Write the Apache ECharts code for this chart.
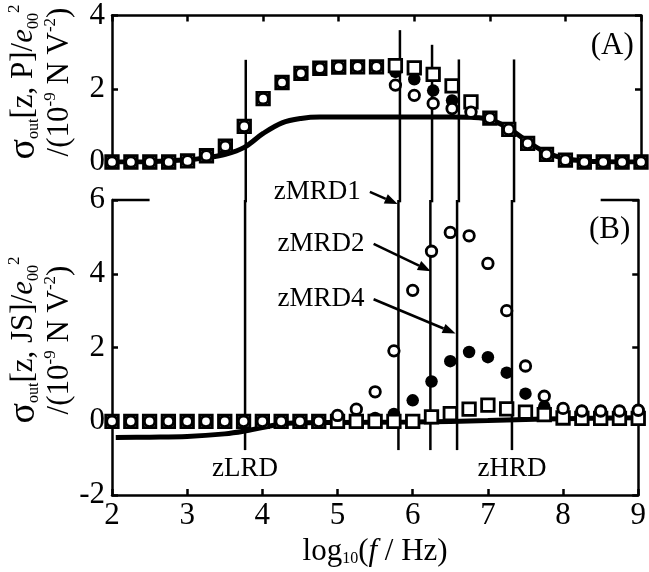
<!DOCTYPE html>
<html>
<head>
<meta charset="utf-8">
<script src="https://cdn.jsdelivr.net/npm/echarts@6/dist/echarts.min.js"></script>
<style>
  html, body { margin: 0; padding: 0; background: #fff; }
  #chart { width: 649px; height: 572px; }
</style>
</head>
<body>
<div id="chart"></div>
<script>
// frequencies, log10(f / Hz)
const xs = [2, 2.25, 2.5, 2.75, 3, 3.25, 3.5, 3.75, 4, 4.25, 4.5, 4.75, 5, 5.25, 5.5,
  5.75, 6, 6.25, 6.5, 6.75, 7, 7.25, 7.5, 7.75, 8, 8.25, 8.5, 8.75, 9];

// panel (A)
const aSquare = [0, 0, 0, 0, 0.03, 0.17, 0.43, 0.97, 1.73, 2.17, 2.42, 2.56, 2.59, 2.6, 2.6,
  2.63, 2.57, 2.39, 2.08, 1.64, 1.2, 0.89, 0.51, 0.21, 0.05, 0, 0, 0, 0];
const aOpen = [0, 0, 0, 0, 0.03, 0.17, 0.43, 0.97, 1.73, 2.17, 2.42, 2.56, 2.59, 2.6, 2.6,
  2.1, 1.82, 1.6, 1.46, 1.36, 1.2, 0.89, 0.51, 0.21, 0.05, 0, 0, 0, 0];
const aFilled = [0, 0, 0, 0, 0.03, 0.17, 0.43, 0.97, 1.73, 2.17, 2.42, 2.56, 2.59, 2.6, 2.6,
  2.46, 2.26, 1.95, 1.68, 1.38, 1.2, 0.89, 0.51, 0.21, 0.05, 0, 0, 0, 0];
const aCurveX = [2, 2.5, 3, 3.25, 3.5, 3.75, 4, 4.25, 4.5, 4.75, 5, 6, 6.5, 6.75, 7, 7.25, 7.5, 7.75, 8, 8.25, 8.5, 9];
const aCurveY = [0, 0.01, 0.06, 0.12, 0.21, 0.4, 0.78, 1.07, 1.19, 1.23, 1.23, 1.23, 1.23, 1.22, 1.16, 0.92, 0.56, 0.25, 0.09, 0.03, 0.01, 0];

// panel (B)
const bSquare = [0, 0, 0, 0, 0, 0, 0, 0, 0, 0, 0, 0, 0, 0, 0,
  0, 0, 0.12, 0.21, 0.33, 0.44, 0.34, 0.25, 0.18, 0.09, 0.08, 0.08, 0.08, 0.08];
const bOpen = [0, 0, 0, 0, 0, 0, 0, 0, 0, 0, 0, 0, 0.16, 0.33, 0.8,
  1.91, 3.55, 4.61, 5.12, 5.03, 4.28, 3.0, 1.5, 0.68, 0.35, 0.28, 0.28, 0.28, 0.3];
const bFilled = [0, 0, 0, 0, 0, 0, 0, 0, 0, 0, 0, 0, 0, 0.06, 0.09,
  0.2, 0.57, 1.08, 1.63, 1.88, 1.74, 1.32, 0.75, 0.4, 0.35, 0.28, 0.28, 0.28, 0.3];
const bCurveX = [2.05, 2.5, 3, 3.5, 3.75, 4, 4.25, 4.5, 5, 6, 7, 7.5, 8, 9];
const bCurveY = [-0.44, -0.43, -0.41, -0.34, -0.27, -0.17, -0.07, -0.04, -0.03, -0.02, 0.02, 0.05, 0.07, 0.1];

// region boundaries
const regionNames = ['zLRD', 'zMRD1', 'zMRD2', 'zMRD4', 'zHRD'];
const regionX = [3.77, 5.81, 6.235, 6.59, 7.32];
const regionTopA = [2.79, 3.6, 3.2, 2.8, 2.8];
const regionBottomB = -0.78;

const FONT = '"Liberation Serif", "Times New Roman", Times, serif';
const chart = echarts.init(document.getElementById('chart'));

function xAxisCfg(grid, pos, labels) {
  return {
    gridIndex: grid, type: 'value', position: pos, min: 2, max: 9, interval: 1,
    axisLine: { onZero: false, lineStyle: { color: '#000', width: 2.5 } },
    axisTick: { inside: true, length: 6, lineStyle: { color: '#000', width: 2.5 } },
    axisLabel: { show: labels, color: '#000', fontFamily: FONT, fontSize: 31, margin: 5 },
    splitLine: { show: false }
  };
}
function yAxisCfg(grid, pos, min, max, labels) {
  return {
    gridIndex: grid, type: 'value', position: pos, min: min, max: max, interval: 2,
    axisLine: { show: true, onZero: false, lineStyle: { color: '#000', width: 2.5 } },
    axisTick: { show: true, inside: true, length: 6, lineStyle: { color: '#000', width: 2.5 } },
    axisLabel: { show: labels, color: '#000', fontFamily: FONT, fontSize: 31, margin: 7 },
    splitLine: { show: false }
  };
}

function scatter(xi, yi, vals, kind, z) {
  const filled = kind === 'filled';
  return {
    type: 'scatter', xAxisIndex: xi, yAxisIndex: yi, z: z, silent: true,
    symbol: kind === 'square' ? 'rect' : 'circle',
    symbolSize: kind === 'square' ? 12.5 : (filled ? 12.5 : 10.5),
    data: xs.map((x, i) => [x, vals[i]]),
    itemStyle: {
      color: filled ? '#000' : '#fff',
      borderColor: '#000', borderWidth: filled ? 0 : 2.8, opacity: 1
    }
  };
}

const series = [];
// region lines: top part in (A) running down through the gap, bottom part in (B)
regionX.forEach((x, i) => {
  series.push({
    type: 'line', xAxisIndex: 0, yAxisIndex: 0, clip: false, symbol: 'none', z: 1, silent: true,
    data: [[x, regionTopA[i]], [x, -1.1]],
    lineStyle: { color: '#000', width: 2.5 }
  });
  series.push({
    type: 'line', xAxisIndex: 1, yAxisIndex: 2, clip: false, symbol: 'none', z: 1, silent: true,
    data: [[x, 6], [x, regionBottomB]],
    lineStyle: { color: '#000', width: 2.5 }
  });
});
// partial top border of (B)
[[2, 2.5], [8.5, 9]].forEach(seg => {
  series.push({
    type: 'line', xAxisIndex: 1, yAxisIndex: 2, clip: false, symbol: 'none', z: 1, silent: true,
    data: [[seg[0], 6], [seg[1], 6]],
    lineStyle: { color: '#000', width: 2.5 }
  });
});
series.push({
  type: 'line', xAxisIndex: 0, yAxisIndex: 0, smooth: 0.35, symbol: 'none', z: 2, silent: true,
  data: aCurveX.map((x, i) => [x, aCurveY[i]]),
  lineStyle: { color: '#000', width: 5 }
});
series.push({
  type: 'line', xAxisIndex: 1, yAxisIndex: 2, smooth: 0.35, symbol: 'none', z: 2, silent: true,
  data: bCurveX.map((x, i) => [x, bCurveY[i]]),
  lineStyle: { color: '#000', width: 5 }
});
series.push(scatter(0, 0, aFilled, 'filled', 3));
series.push(scatter(0, 0, aSquare, 'square', 4));
series.push(scatter(0, 0, aOpen, 'open', 5));
series.push(scatter(1, 2, bFilled, 'filled', 3));
series.push(scatter(1, 2, bSquare, 'square', 4));
series.push(scatter(1, 2, bOpen, 'open', 5));

const xB = xAxisCfg(1, 'bottom', true);
xB.name = 'log{sub|10}({i|f} / Hz)';
xB.nameLocation = 'middle';
xB.nameGap = 40;
xB.nameTextStyle = {
  color: '#000', fontFamily: FONT, fontSize: 31,
  rich: {
    sub: { fontFamily: FONT, fontSize: 16, color: '#000', verticalAlign: 'bottom', lineHeight: 16 },
    i: { fontFamily: FONT, fontSize: 31, fontStyle: 'italic', color: '#000' }
  }
};

chart.setOption({
  animation: false,
  backgroundColor: '#fff',
  grid: [
    { left: 112, right: 8, top: 11, height: 151 },
    { left: 112, right: 8, top: 200, height: 302 }
  ],
  xAxis: [xAxisCfg(0, 'top', false), xB],
  yAxis: [
    yAxisCfg(0, 'left', 0, 4, true),
    yAxisCfg(0, 'right', 0, 4, false),
    yAxisCfg(1, 'left', -2, 6, true),
    yAxisCfg(1, 'right', -2, 6, false)
  ],
  series: series
});

// annotations placed through the axes
const toB = p => chart.convertToPixel({ gridIndex: 1 }, p);
const toA = p => chart.convertToPixel({ gridIndex: 0 }, p);

function arrow(from, to) {
  const p0 = toB(from), p1 = toB(to);
  const dx = p1[0] - p0[0], dy = p1[1] - p0[1];
  const len = Math.hypot(dx, dy), ux = dx / len, uy = dy / len;
  const head = 13, w = 5;
  const bx = p1[0] - ux * head, by = p1[1] - uy * head;
  return [
    { type: 'line', silent: true, z: 10, shape: { x1: p0[0], y1: p0[1], x2: bx, y2: by },
      style: { stroke: '#000', lineWidth: 2.5 } },
    { type: 'polygon', silent: true, z: 10,
      shape: { points: [p1, [bx - uy * w, by + ux * w], [bx + uy * w, by - ux * w]] },
      style: { fill: '#000' } }
  ];
}

const arrowFrom = [[5.43, 6.22], [5.48, 4.81], [5.48, 3.31]];
const arrowTo = [[5.80, 5.89], [6.24, 4.07], [6.57, 2.38]];
const graphic = [];
['zMRD1', 'zMRD2', 'zMRD4'].forEach((name, i) => {
  graphic.push(...arrow(arrowFrom[i], arrowTo[i]));
  const p = toB(arrowFrom[i]);
  graphic.push({
    type: 'text', silent: true, z: 10, x: p[0] - 9, y: p[1],
    style: { text: name, fontFamily: FONT, fontSize: 27, fill: '#000', align: 'right', verticalAlign: 'middle' }
  });
});
[0, 4].forEach(i => {
  const p = toB([regionX[i], -1.3]);
  graphic.push({
    type: 'text', silent: true, z: 10, x: p[0], y: p[1],
    style: { text: regionNames[i], fontFamily: FONT, fontSize: 27, fill: '#000', align: 'center', verticalAlign: 'middle' }
  });
});
const pa = toA([8.62, 3.18]);
graphic.push({ type: 'text', silent: true, x: pa[0], y: pa[1],
  style: { text: '(A)', fontFamily: FONT, fontSize: 31, fill: '#000', align: 'center', verticalAlign: 'middle' } });
const pb = toB([8.62, 5.2]);
graphic.push({ type: 'text', silent: true, x: pb[0], y: pb[1],
  style: { text: '(B)', fontFamily: FONT, fontSize: 31, fill: '#000', align: 'center', verticalAlign: 'middle' } });

const titleRich = {
  s: { fontFamily: FONT, fontSize: 38, fill: '#000', lineHeight: 36 },
  sub: { fontFamily: FONT, fontSize: 16, fill: '#000', verticalAlign: 'bottom', lineHeight: 15 },
  sup: { fontFamily: FONT, fontSize: 17, fill: '#000', verticalAlign: 'top', lineHeight: 16 },
  i: { fontFamily: FONT, fontSize: 31, fontStyle: 'italic', fill: '#000', lineHeight: 36 },
  n: { fontFamily: FONT, fontSize: 31, fill: '#000', lineHeight: 36 }
};
function yTitle(text, x, y) {
  return { type: 'text', silent: true, x: x, y: y, rotation: Math.PI / 2,
    style: { text: text, rich: titleRich, fontFamily: FONT, fontSize: 31, fill: '#000', align: 'center', verticalAlign: 'middle' } };
}
graphic.push(yTitle('{s|σ}{sub|out}{n|[z, P]/}{i|e}{sub|00}{sup|2}', 24, 82));
graphic.push(yTitle('{n|/(10}{sup|-9}{n| N V}{sup|-2}{n|)}', 60, 82));
graphic.push(yTitle('{s|σ}{sub|out}{n|[z, JS]/}{i|e}{sub|00}{sup|2}', 24, 340));
graphic.push(yTitle('{n|/(10}{sup|-9}{n| N V}{sup|-2}{n|)}', 60, 340));

chart.setOption({ graphic: graphic });
</script>
</body>
</html>
